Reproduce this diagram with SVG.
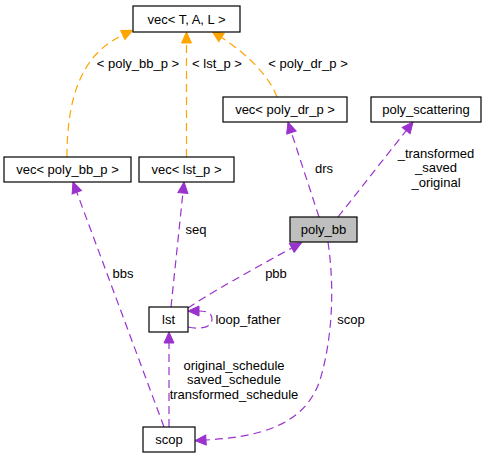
<svg xmlns="http://www.w3.org/2000/svg" width="487" height="459" viewBox="0 0 487 459">
<style>
.box{fill:#ffffff;stroke:#000000;stroke-width:1.2}
.cur{fill:#bfbfbf;stroke:#000000;stroke-width:1.2}
text{font-family:"Liberation Sans",Arial,Helvetica,sans-serif;font-size:13px;fill:#000000;text-anchor:middle}
.e{fill:none;stroke:#9a32cd;stroke-width:1.2;stroke-dasharray:8,5}
.t{fill:none;stroke:#ffa500;stroke-width:1.2;stroke-dasharray:8,5}
</style>
<defs>
<marker id="ap" markerUnits="userSpaceOnUse" markerWidth="12" markerHeight="11" refX="0" refY="5.5" orient="auto" viewBox="0 0 12 11" overflow="visible">
<path d="M0,0.5 L11,5.5 L0,10.5 z" fill="#9a32cd" stroke="#9a32cd" stroke-width="1"/>
</marker>
<marker id="ao" markerUnits="userSpaceOnUse" markerWidth="12" markerHeight="11" refX="0" refY="5.5" orient="auto" viewBox="0 0 12 11" overflow="visible">
<path d="M0,0.5 L11,5.5 L0,10.5 z" fill="#ffa500" stroke="#ffa500" stroke-width="1"/>
</marker>
</defs>
<rect width="487" height="459" fill="#ffffff"/>
<g id="edges">
<path class="t" d="M67,157 C67,100 80,55 122.8,35" marker-end="url(#ao)"/>
<text x="138" y="67.5">&lt; poly_bb_p &gt;</text>
<path class="t" d="M186.5,157 L186.5,43" marker-end="url(#ao)"/>
<text x="217" y="67.5">&lt; lst_p &gt;</text>
<path class="t" d="M277,97 C270,78 250,56 221.5,37.5" marker-end="url(#ao)"/>
<text x="308" y="67.5">&lt; poly_dr_p &gt;</text>
<path class="e" d="M319,217 L291.4,132.5" marker-end="url(#ap)"/>
<text x="324" y="172.5">drs</text>
<path class="e" d="M338,217 L406.2,130.6" marker-end="url(#ap)"/>
<text x="436" y="157.5">_transformed</text>
<text x="436" y="172">_saved</text>
<text x="436" y="186.5">_original</text>
<path class="e" d="M164,427 L76.8,192.3" marker-end="url(#ap)"/>
<text x="123" y="277.5">bbs</text>
<path class="e" d="M171,307 L182.9,193" marker-end="url(#ap)"/>
<text x="196" y="233.5">seq</text>
<path class="e" d="M188,308 C205,296 255,268 291.8,248" marker-end="url(#ap)"/>
<text x="276" y="277.5">pbb</text>
<path class="e" d="M188,327 C202,330 212,327 212,319 C212,313 207,311 199,311" marker-end="url(#ap)"/>
<text x="248" y="323.5">loop_father</text>
<path class="e" d="M169,427 L169,343" marker-end="url(#ap)"/>
<text x="234" y="369.5">original_schedule</text>
<text x="234" y="384">saved_schedule</text>
<text x="234" y="398.5">transformed_schedule</text>
<path class="e" d="M328,242 C335,290 332,340 320,380 C305,425 260,437 206,440" marker-end="url(#ap)"/>
<text x="351" y="323.5">scop</text>
</g>
<g id="vec_TAL"><rect class="box" x="133" y="6" width="107" height="26"/><text x="186.5" y="23.5">vec&lt; T, A, L &gt;</text></g>
<g id="vec_poly_dr_p"><rect class="box" x="223" y="97" width="124" height="25"/><text x="285" y="114">vec&lt; poly_dr_p &gt;</text></g>
<g id="vec_poly_bb_p"><rect class="box" x="4" y="157" width="127" height="25"/><text x="67.5" y="174">vec&lt; poly_bb_p &gt;</text></g>
<g id="vec_lst_p"><rect class="box" x="139" y="157" width="95" height="25"/><text x="186.5" y="174">vec&lt; lst_p &gt;</text></g>
<g id="poly_scattering"><rect class="box" x="371" y="97" width="110" height="25"/><text x="426" y="114">poly_scattering</text></g>
<g id="poly_bb"><rect class="cur" x="290" y="217" width="67" height="25"/><text x="323.5" y="234">poly_bb</text></g>
<g id="lst"><rect class="box" x="149" y="307" width="39" height="25"/><text x="168.5" y="324">lst</text></g>
<g id="scop"><rect class="box" x="143" y="427" width="52" height="25"/><text x="169" y="444">scop</text></g>
</svg>
